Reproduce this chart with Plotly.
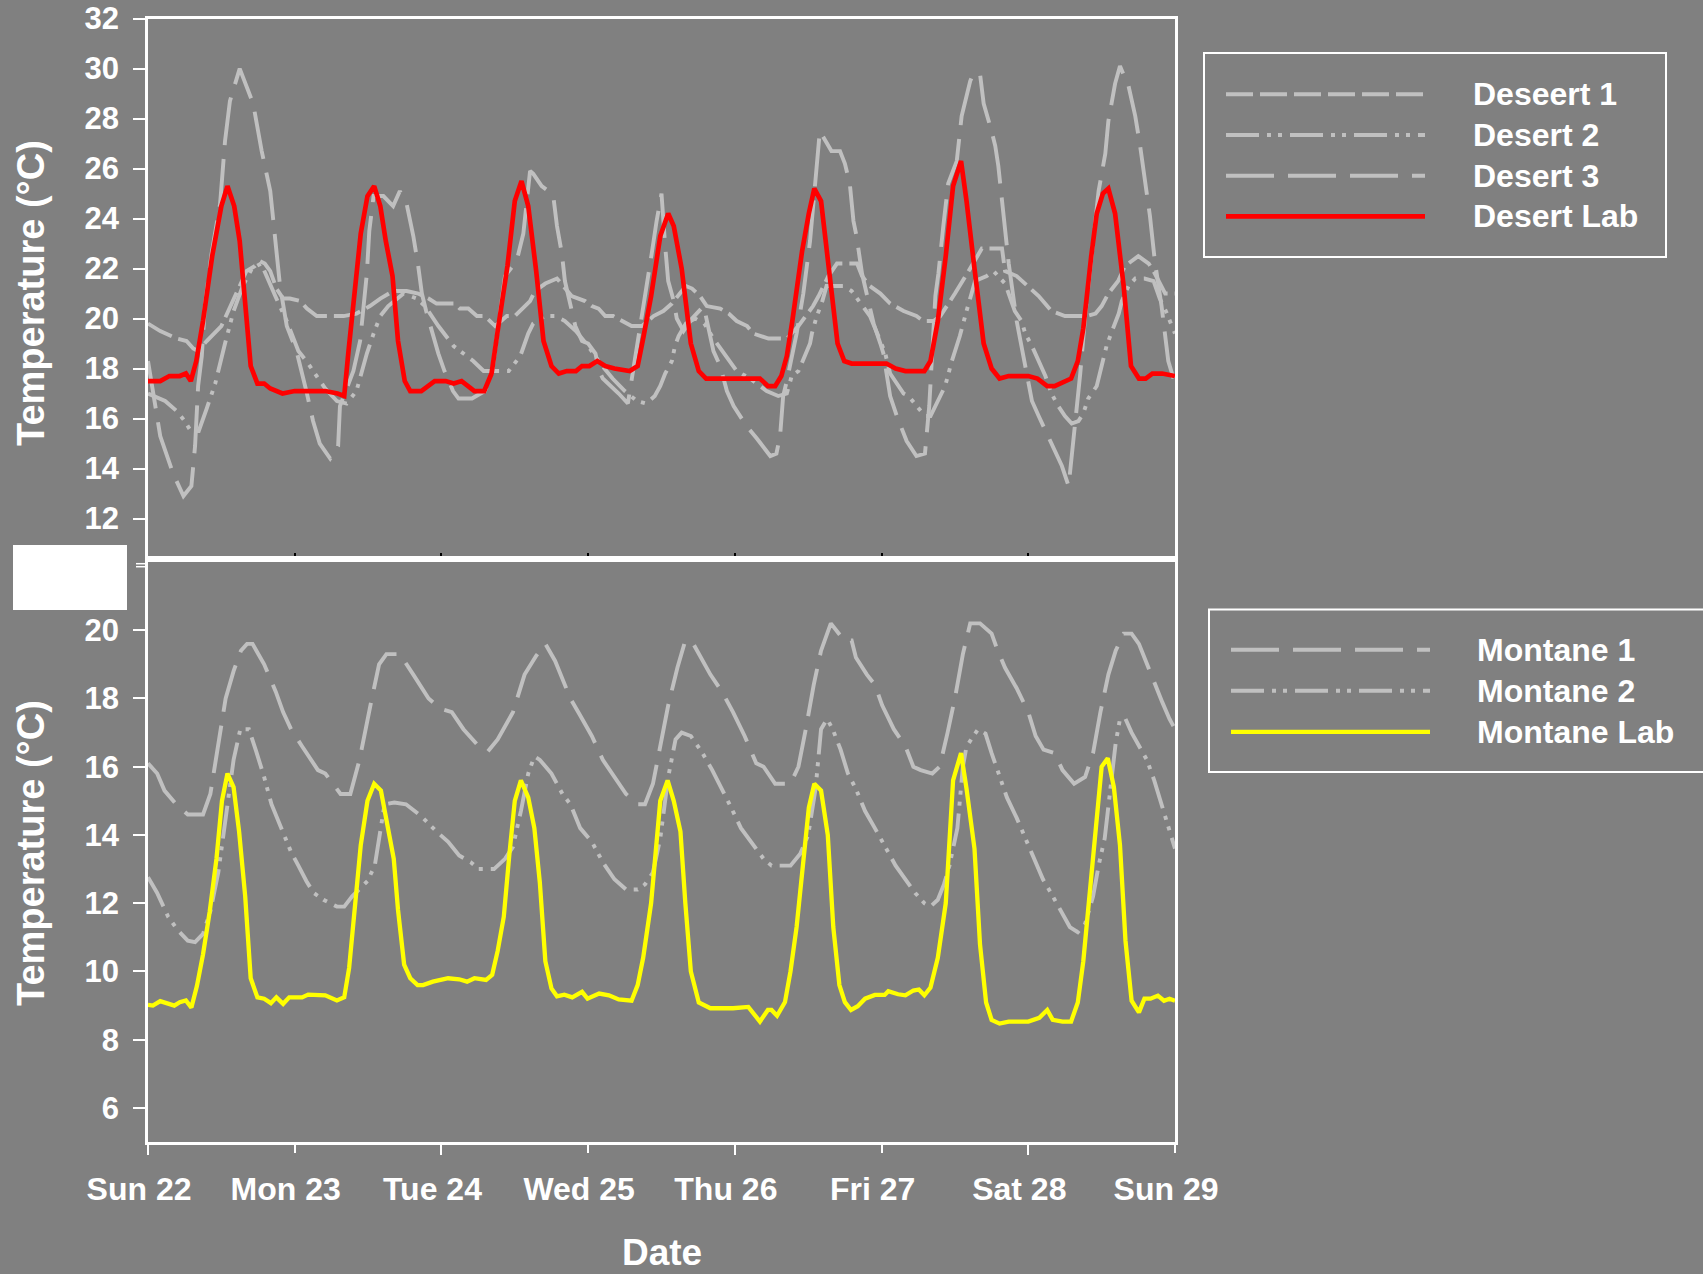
import plotly.graph_objects as go

# ---------------- data (hours since Sun 22 00:00, temperature in deg C) ----------------
DAY_LABELS = ["Sun 22", "Mon 23", "Tue 24", "Wed 25", "Thu 26", "Fri 27", "Sat 28", "Sun 29"]
DAY_HOURS = [0, 24, 48, 72, 96, 120, 144, 168]
LONG_TICK_HOURS = [0, 48, 96, 144]
TOP_YTICKS = [12, 14, 16, 18, 20, 22, 24, 26, 28, 30, 32]
BOT_YTICKS = [6, 8, 10, 12, 14, 16, 18, 20]

DESERT_NAMES = ["Deseert 1", "Desert 2", "Desert 3", "Desert Lab"]
MONTANE_NAMES = ["Montane 1", "Montane 2", "Montane Lab"]

DESERT_1 = [(0, 19.8), (2, 19.5), (4.7, 19.2), (6.3, 19.1), (7.4, 18.8), (8.2, 18.7), (9.6, 19.1), (12, 19.7),
            (15, 21.3), (16.1, 21.9), (17.5, 22.1), (18.3, 22.3), (19.1, 22.2), (20, 21.9), (21, 21.2), (22.1, 20.8),
            (23.2, 20.8), (24.9, 20.7), (26, 20.4), (27.6, 20.1), (32, 20.1), (34.1, 20.2), (36.3, 20.5), (38, 20.8),
            (40.1, 21.1), (42.3, 21.1), (44.2, 21.0), (45.9, 20.8), (47.2, 20.6), (48.6, 20.6), (50.2, 20.6),
            (51, 20.4), (52.4, 20.4), (53.8, 20.1), (55.1, 20.1), (56.8, 19.7), (58.7, 20.1), (60, 20.1),
            (62.5, 20.7), (63.3, 21.1), (65, 21.4), (66.9, 21.6), (68, 21.3), (69.3, 20.9), (71.5, 20.7),
            (72.6, 20.5), (73.7, 20.4), (74.8, 20.1), (76.1, 20.1), (77.5, 19.9), (79.1, 19.7), (80.8, 19.7),
            (82.7, 20.1), (84.3, 20.3), (85.7, 20.6), (87, 21.0), (88, 21.3), (89, 21.2), (90.3, 20.9),
            (91.4, 20.5), (93.6, 20.4), (95, 20.2), (96.3, 19.9), (98, 19.7), (99, 19.4), (101.5, 19.2),
            (104.5, 19.2), (106.4, 19.7), (108.8, 20.5), (109.7, 20.9), (111.3, 21.7), (112.7, 22.2), (116, 22.2),
            (116.8, 21.7), (118.1, 21.3), (119.8, 21.0), (121.4, 20.6), (123.6, 20.3), (125.7, 20.1), (126.8, 19.9),
            (128.5, 19.9), (129.6, 20.1), (131, 20.6), (132, 21.0), (134, 21.8), (135.8, 22.6), (136.4, 22.8),
            (139.7, 22.8), (140.2, 21.9), (142.1, 21.7), (144, 21.3), (145.7, 20.9), (147.8, 20.3), (150, 20.1),
            (152, 20.1), (153.6, 20.1), (155, 20.2), (156, 20.5), (157.1, 21.0), (158.7, 21.5), (159.8, 22.1),
            (161.5, 22.4), (162, 22.5), (163.7, 22.2), (164.7, 21.8), (166.4, 21.0), (168, 21.0)]

DESERT_2 = [(0, 17.0), (2.8, 16.7), (4.7, 16.3), (6, 15.9), (7, 15.5), (8.3, 15.5), (9.6, 16.4), (11, 17.4),
            (12.6, 19.0), (14, 20.3), (15.5, 21.3), (17, 22.0), (18.5, 22.2), (19.5, 21.6), (21, 20.8),
            (22.7, 19.9), (24.6, 18.7), (25.9, 18.3), (27.8, 17.6), (29, 17.2), (30.9, 16.7), (32.5, 16.6),
            (34.1, 17.1), (35.8, 18.6), (36.9, 19.4), (38, 20.1), (39.3, 20.5), (41.8, 21.0), (44, 20.8),
            (45.3, 20.5), (47.5, 19.7), (50, 18.9), (51.6, 18.6), (53.2, 18.3), (54.9, 17.9), (59, 17.9),
            (60.9, 18.5), (62.2, 19.4), (63, 19.8), (64.9, 20.1), (66.6, 20.1), (68.2, 19.9), (70, 19.5),
            (72, 18.9), (74, 18.2), (76, 17.6), (78, 17.1), (80, 16.7), (81.5, 16.6), (82.9, 16.9), (83.8, 17.3),
            (84.6, 17.8), (85.7, 18.3), (86.2, 18.9), (86.8, 19.3), (88, 19.8), (89.5, 20.0), (91, 19.8),
            (92.5, 19.2), (93.9, 18.7), (95.2, 18.3), (96.3, 17.9), (98.5, 17.6), (101.2, 17.1), (103.1, 16.9),
            (104.5, 17.0), (105.3, 17.7), (106.4, 17.9), (108.3, 19.0), (108.6, 19.4), (109.4, 20.1),
            (110.2, 20.6), (111, 21.3), (112.7, 21.3), (113.8, 21.3), (115.1, 21.1), (116.8, 20.5), (118.1, 20.1),
            (119.8, 19.1), (120.6, 18.6), (121.4, 17.8), (122.5, 17.4), (123.6, 17.0), (124.4, 16.9),
            (125.7, 16.5), (127.1, 16.1), (128, 16.1), (129, 16.6), (130.4, 17.3), (131.5, 18.3), (132.8, 19.3),
            (133.9, 20.3), (135.3, 21.5), (137.2, 21.7), (138.3, 21.9), (140.2, 21.4), (141.8, 20.3),
            (142.9, 19.9), (143.5, 19.4), (144.6, 18.9), (145.7, 18.3), (146.8, 17.7), (147.8, 17.0),
            (148.9, 16.5), (150, 16.1), (151.1, 15.8), (152.2, 15.9), (153, 16.2), (153.8, 16.8), (155.2, 17.3),
            (156, 18.1), (156.8, 18.9), (157.7, 19.5), (158.8, 20.2), (159.3, 20.7), (160.4, 21.3), (161.5, 21.6),
            (163, 21.6), (164.5, 21.5), (165.5, 20.8), (166.5, 20.3), (168, 19.4)]

DESERT_3 = [(0, 18.3), (2, 15.3), (4.1, 13.8), (5.8, 12.9), (7.1, 13.3), (7.7, 14.9), (8.2, 17.3), (8.8, 18.5),
            (9.3, 20.5), (10.4, 22.6), (11.8, 24.6), (12.6, 27.1), (13.4, 28.7), (15, 30.0), (17.2, 28.6),
            (18.6, 26.7), (20, 25.1), (20.8, 23.1), (21.6, 21.3), (22.7, 19.7), (24.3, 18.7), (26, 17.0),
            (27, 15.9), (28.1, 15.0), (29.8, 14.4), (31.1, 14.9), (31.4, 16.5), (33.6, 17.9), (34.7, 19.1),
            (35.8, 21.8), (36.2, 23.5), (36.9, 24.9), (38.5, 24.9), (40.1, 24.5), (41.2, 25.1), (42.3, 24.6),
            (43.4, 23.3), (44.2, 22.1), (44.8, 21.0), (45.5, 20.3), (46.4, 19.5), (47.5, 18.6), (48.5, 17.9),
            (49.9, 17.1), (50.8, 16.8), (53, 16.8), (55.1, 17.1), (56.2, 17.7), (58.4, 21.7), (60.3, 22.3),
            (61.4, 23.4), (61.8, 24.2), (62.5, 25.9), (63, 25.8), (64.4, 25.3), (65.5, 25.1), (66.3, 24.9),
            (66.9, 23.7), (67.7, 22.6), (68.2, 21.5), (69, 20.6), (69.9, 19.7), (71, 19.1), (72, 19.0),
            (73.2, 18.6), (73.8, 17.9), (74.4, 17.6), (75.7, 17.3), (77, 17.0), (78.5, 16.6), (79.1, 17.5),
            (80, 19.0), (81.3, 20.9), (82.4, 22.6), (83.2, 23.9), (84, 25.0), (84.6, 22.9), (85.1, 21.5),
            (86, 20.7), (86.5, 20.0), (87.6, 19.5), (89, 20.0), (90.9, 20.5), (92.5, 18.7), (93.6, 18.1),
            (94.7, 17.1), (95.8, 16.5), (97.9, 15.7), (99.6, 15.2), (101.8, 14.5), (102.8, 14.6), (103.4, 15.3),
            (103.9, 16.9), (104.5, 17.5), (106.1, 19.4), (107.2, 21.0), (108.3, 23.1), (109.4, 26.3),
            (109.9, 27.5), (111.8, 26.7), (113.2, 26.7), (114, 26.2), (114.8, 25.4), (115.4, 23.9), (115.9, 23.3),
            (116.8, 21.8), (117.6, 20.9), (118.7, 19.8), (119.8, 19.0), (120.3, 18.6), (121.4, 16.9),
            (122.5, 16.1), (124.1, 15.1), (125.7, 14.5), (127.1, 14.6), (127.8, 16.5), (128.8, 20.9),
            (129.3, 21.8), (130.1, 23.7), (130.9, 25.4), (132.3, 26.3), (133.1, 28.1), (134.5, 29.5), (135, 29.8),
            (136.1, 29.8), (136.7, 28.6), (138, 27.5), (138.6, 26.9), (139.1, 26.1), (139.7, 24.6), (140.8, 22.2),
            (142.1, 19.9), (143.5, 18.1), (144.6, 16.7), (145.7, 16.1), (146.8, 15.5), (148.7, 14.5),
            (149.5, 14.1), (150.6, 13.3), (151.1, 14.5), (151.9, 16.1), (152.5, 17.8), (153.3, 20.1),
            (154.4, 22.6), (155.5, 25.1), (156.6, 26.6), (157.1, 27.9), (158.2, 29.4), (159, 30.1), (160.4, 29.3),
            (161.5, 28.1), (162.3, 26.9), (163.1, 25.5), (163.9, 24.1), (164.7, 22.3), (165.8, 20.5),
            (166.9, 18.3), (168, 17.4)]

DESERT_LAB = [(0, 17.5), (2, 17.5), (3.5, 17.7), (5.2, 17.7), (6.2, 17.8), (7, 17.5), (7.9, 18.3), (9, 19.9),
              (10.5, 22.5), (12, 24.5), (13, 25.3), (14.1, 24.5), (15, 23.1), (16, 20.5), (16.8, 18.1),
              (17.9, 17.4), (19, 17.4), (20, 17.2), (22, 17.0), (24, 17.1), (26, 17.1), (29, 17.1), (31, 17.0),
              (32.1, 16.9), (32.8, 18.7), (33.7, 21.0), (34.8, 23.4), (35.9, 24.9), (37, 25.3), (38, 24.5),
              (38.9, 23.1), (40, 21.7), (40.9, 19.1), (42, 17.5), (42.9, 17.1), (44.7, 17.1), (46.9, 17.5),
              (48.7, 17.5), (50, 17.4), (51.3, 17.5), (53.4, 17.1), (55, 17.1), (56.2, 17.8), (57.2, 19.5),
              (58.8, 22.1), (60, 24.7), (61.1, 25.5), (62.2, 24.5), (63.5, 21.9), (64.7, 19.1), (66, 18.1),
              (67.2, 17.8), (68.5, 17.9), (70, 17.9), (71, 18.1), (72.2, 18.1), (73.5, 18.3), (74.8, 18.1),
              (76.3, 18.0), (78.8, 17.9), (80.1, 18.1), (81, 19.2), (82.3, 20.9), (83.8, 23.3), (85.1, 24.2),
              (86, 23.7), (87.3, 22.0), (88.8, 19.0), (90.1, 17.9), (91.3, 17.6), (95.7, 17.6), (97.3, 17.6),
              (100.1, 17.6), (101.4, 17.3), (102.6, 17.3), (103.6, 17.7), (104.5, 18.5), (105.4, 19.9),
              (107, 22.7), (108.1, 24.2), (109, 25.2), (110.1, 24.7), (111.4, 22.0), (112.8, 19.0), (113.9, 18.3),
              (115.1, 18.2), (120.8, 18.2), (122.3, 18.0), (123.9, 17.9), (127, 17.9), (128, 18.3), (129.2, 19.9),
              (130.5, 22.5), (131.7, 25.3), (133, 26.3), (133.9, 24.7), (135.2, 22.0), (136.7, 19.0), (138, 18.0),
              (139.3, 17.6), (140.8, 17.7), (144, 17.7), (145.5, 17.6), (147.1, 17.3), (148.3, 17.3),
              (149.9, 17.5), (151, 17.6), (152.1, 18.3), (153, 19.6), (154.3, 22.5), (155.2, 24.2), (156.2, 25.0),
              (157.1, 25.2), (158.2, 24.2), (159.6, 21.3), (160.8, 18.1), (162.1, 17.6), (163.2, 17.6),
              (164.3, 17.8), (165.9, 17.8), (168, 17.7)]

MONTANE_1 = [(0, 16.1), (1.5, 15.8), (2.7, 15.3), (4.6, 14.9), (6.5, 14.6), (9, 14.6), (10.2, 15.2), (11.5, 16.7),
             (12.7, 18.0), (14, 18.8), (15.2, 19.4), (16.2, 19.6), (17.1, 19.6), (19, 19.0), (20.9, 18.2),
             (22.1, 17.6), (23.4, 17.1), (25.2, 16.6), (27.8, 15.9), (29, 15.8), (30.3, 15.5), (31.5, 15.2),
             (33.1, 15.2), (34.6, 16.2), (36.5, 17.9), (37.8, 19.0), (39, 19.3), (41.2, 19.3), (43.4, 18.7),
             (45.9, 18.0), (47.8, 17.7), (49.7, 17.6), (51.6, 17.1), (54.1, 16.6), (55.6, 16.45), (57.2, 16.8),
             (59.7, 17.6), (61.6, 18.7), (63.5, 19.25), (65, 19.6), (66.6, 19.1), (67.9, 18.5), (69.1, 18.0),
             (70.7, 17.5), (72.6, 16.9), (74.4, 16.2), (76.3, 15.7), (78.2, 15.2), (80.1, 14.9), (81.3, 14.9),
             (82.6, 15.5), (84.1, 16.8), (85.1, 17.8), (86.6, 18.9), (87.9, 19.7), (89.2, 19.6), (90.1, 19.3),
             (92, 18.7), (93.9, 18.2), (95.7, 17.6), (97.6, 16.9), (99.5, 16.1), (100.7, 16.0), (102.6, 15.5),
             (105.1, 15.5), (106.4, 16.0), (107.6, 17.1), (108.9, 18.4), (110.1, 19.4), (111.7, 20.2),
             (113.9, 19.7), (115.1, 19.7), (115.8, 19.2), (117.6, 18.7), (118.9, 18.4), (120.1, 17.8),
             (122, 17.1), (123.9, 16.6), (125.2, 16.0), (126.4, 15.9), (128.3, 15.8), (129.5, 16.0), (130.8, 17.0),
             (132.1, 18.1), (133.3, 19.3), (134.5, 20.2), (136.1, 20.2), (138, 19.9), (139, 19.4), (140.2, 18.9),
             (142.1, 18.3), (144, 17.6), (145.2, 16.9), (146.5, 16.5), (148.3, 16.4), (149.6, 15.9), (151.5, 15.5),
             (153.3, 15.7), (154.6, 16.4), (155.8, 17.6), (157.1, 18.7), (158.3, 19.4), (159.6, 19.9),
             (160.9, 19.9), (162.1, 19.6), (163.4, 19.0), (164.6, 18.5), (165.9, 17.9), (167.1, 17.4), (168, 17.1)]

MONTANE_2 = [(0, 12.76), (1.5, 12.3), (3.3, 11.6), (4.9, 11.2), (6.5, 10.9), (7.7, 10.86), (9, 11.1),
             (10.2, 11.76), (11.5, 12.9), (12.7, 14.4), (14, 16.2), (15.1, 17.1), (16.5, 17.1), (17.7, 16.45),
             (19, 15.7), (20.2, 14.9), (21.8, 14.2), (23.4, 13.5), (24.6, 13.1), (25.9, 12.65), (27.1, 12.3),
             (28.7, 12.1), (30.9, 11.9), (32.1, 11.9), (33.4, 12.2), (34.6, 12.4), (35.9, 12.65), (37.1, 13.1),
             (38.1, 14.2), (38.7, 14.9), (40.3, 14.95), (42.2, 14.9), (44.7, 14.55), (47.2, 14.1), (49.1, 13.8),
             (50.9, 13.4), (52.8, 13.2), (54.1, 13.0), (56.6, 13.0), (58.4, 13.3), (59.7, 13.65), (61, 14.7),
             (62.2, 15.8), (63.2, 16.3), (64.1, 16.2), (66, 15.8), (67.8, 15.2), (69.1, 14.9), (70.7, 14.2),
             (72.6, 13.8), (74.4, 13.2), (76.3, 12.7), (78.2, 12.4), (80.1, 12.4), (81.3, 12.55), (82.6, 12.9),
             (83.8, 13.9), (85.1, 15.7), (86.3, 16.8), (87.3, 17.0), (88.8, 16.9), (90.7, 16.4), (92.3, 15.9),
             (93.9, 15.35), (95.4, 14.8), (97, 14.2), (98.2, 13.9), (100.7, 13.3), (102, 13.1), (105.1, 13.1),
             (106.7, 13.45), (108, 14.0), (109.2, 15.35), (110.1, 17.1), (111.1, 17.4), (112, 17.1), (113.3, 16.5),
             (114.5, 15.8), (115.8, 15.35), (117.3, 14.7), (118.9, 14.2), (120.8, 13.6), (122.3, 13.1),
             (123.9, 12.7), (125.5, 12.3), (127, 12.0), (128, 11.9), (129.2, 12.1), (130.2, 12.55), (131.1, 13.1),
             (132.4, 14.2), (133.3, 16.0), (133.9, 16.6), (135.8, 17.1), (137, 16.97), (138, 16.4), (139.3, 15.7),
             (140.5, 15.1), (142.1, 14.5), (143.3, 14.0), (144.9, 13.3), (146.4, 12.7), (147.7, 12.3),
             (149.3, 11.8), (150.8, 11.3), (152.1, 11.15), (153.3, 11.4), (154.6, 12.2), (155.5, 13.1),
             (156.5, 13.9), (157.4, 15.35), (158.3, 16.7), (159, 17.4), (159.9, 17.4), (160.9, 17.0), (162.4, 16.5),
             (163.4, 16.2), (164.6, 15.6), (165.9, 14.8), (167.1, 14.1), (168, 13.6)]

MONTANE_LAB = [(0, 9.02), (0.8, 9.0), (2, 9.13), (3.3, 9.05), (4.3, 9.0), (5.2, 9.1), (6.2, 9.15), (7.1, 8.94),
               (8, 9.57), (9, 10.5), (10.1, 11.76), (11.2, 13.3), (12.1, 15.0), (13, 15.8), (14, 15.4), (14.9, 14.1),
               (15.9, 12.2), (16.8, 9.8), (17.9, 9.24), (19, 9.2), (20.1, 9.07), (21, 9.24), (22.1, 9.05),
               (23.1, 9.24), (25.2, 9.24), (26.2, 9.32), (29, 9.3), (30.9, 9.15), (32.1, 9.24), (32.9, 10.1),
               (33.7, 11.5), (34.8, 13.7), (35.9, 15.0), (37, 15.5), (38.1, 15.3), (39, 14.4), (40.2, 13.3),
               (40.9, 11.8), (41.9, 10.2), (42.9, 9.8), (44.1, 9.6), (45, 9.6), (46.6, 9.7), (49.1, 9.8),
               (50.9, 9.77), (52.2, 9.7), (53.4, 9.8), (55.3, 9.75), (56.3, 9.9), (57.2, 10.6), (58.2, 11.6),
               (59.1, 13.4), (60, 15.0), (61, 15.6), (62.2, 15.1), (63.2, 14.2), (64.1, 12.6), (65, 10.3), (66, 9.5),
               (66.9, 9.27), (68.1, 9.32), (69.4, 9.24), (71, 9.4), (71.9, 9.2), (73.8, 9.35), (75.4, 9.3),
               (77, 9.18), (79.1, 9.14), (80.1, 9.6), (81, 10.4), (82.3, 12.0), (83.8, 15.0), (85, 15.6), (86, 15.0),
               (87.1, 14.1), (87.9, 12.0), (88.8, 10.0), (90.1, 9.09), (92, 8.92), (95.7, 8.92), (98.2, 8.96),
               (100.1, 8.53), (101.4, 8.87), (102, 8.87), (102.9, 8.7), (104.2, 9.1), (105.1, 10.0), (106.1, 11.3),
               (107, 12.9), (108.1, 14.8), (109, 15.5), (110.1, 15.3), (111.2, 14.0), (112.1, 11.3), (113.1, 9.6),
               (114, 9.1), (115, 8.87), (116.1, 8.98), (117.3, 9.2), (118.9, 9.31), (120.5, 9.31), (121.1, 9.42),
               (122.7, 9.33), (123.9, 9.3), (125.2, 9.44), (126.1, 9.47), (127, 9.3), (128, 9.53), (129.2, 10.4),
               (130.5, 12.0), (131.7, 15.6), (133, 16.4), (133.9, 15.35), (135.2, 13.6), (136.1, 10.8), (137.1, 9.09),
               (138, 8.58), (139.3, 8.47), (140.8, 8.53), (144, 8.53), (145.8, 8.64), (147.1, 8.87), (148, 8.58),
               (149.6, 8.53), (151, 8.53), (152.1, 9.09), (153, 10.3), (154, 12.2), (154.9, 14.2), (156, 16.0),
               (157, 16.25), (158, 15.4), (159, 13.7), (159.9, 10.9), (160.9, 9.14), (162.1, 8.8), (163, 9.2),
               (164, 9.2), (165.2, 9.29), (166.2, 9.14), (167.1, 9.2), (168, 9.14)]

# ---------------- styling / layout constants ----------------
W, H = 1703, 1274
BG = "#808080"
GREY = "#C0C0C0"
WHITE = "#FFFFFF"
FONT = "Liberation Sans, Arial, sans-serif"
DASH_SHORT = "27px,7px"
DASH_DDOT = "33px,8px,4px,7px,4px,8px"
DASH_LONG = "48px,14px"

PLOT_X0, PLOT_X1 = 148, 1175
TOP_Y0, TOP_Y1 = 18.6, 556
BOT_Y0, BOT_Y1 = 562, 1142


def fx(p):
    return p / W


def fy(p):
    return 1 - p / H


def split(series):
    return [p[0] for p in series], [p[1] for p in series]


desert_series = [
    (DESERT_1, GREY, DASH_SHORT, 3.9),
    (DESERT_2, GREY, DASH_DDOT, 3.9),
    (DESERT_3, GREY, DASH_LONG, 3.9),
    (DESERT_LAB, "#FF0000", "solid", 4.7),
]
montane_series = [
    (MONTANE_1, GREY, DASH_LONG, 3.9),
    (MONTANE_2, GREY, DASH_DDOT, 3.9),
    (MONTANE_LAB, "#FFFF00", "solid", 4.3),
]

fig = go.Figure()
for name, (data, color, dash, width) in zip(DESERT_NAMES, desert_series):
    xs, ys = split(data)
    fig.add_trace(go.Scatter(x=xs, y=ys, name=name, mode="lines", xaxis="x", yaxis="y",
                             line=dict(color=color, dash=dash, width=width), showlegend=False))
for name, (data, color, dash, width) in zip(MONTANE_NAMES, montane_series):
    xs, ys = split(data)
    fig.add_trace(go.Scatter(x=xs, y=ys, name=name, mode="lines", xaxis="x2", yaxis="y2",
                             line=dict(color=color, dash=dash, width=width), showlegend=False))
# empty trace so the overlay axis (long ticks) is drawn
fig.add_trace(go.Scatter(x=[], y=[], xaxis="x3", yaxis="y2", showlegend=False, hoverinfo="skip"))

ytickfont = dict(family=FONT, size=31, color=WHITE, weight="bold")
xtickfont = dict(family=FONT, size=32, color=WHITE, weight="bold")
axis_common = dict(showline=True, linecolor=WHITE, linewidth=2.5, mirror=True,
                   showgrid=False, zeroline=False, automargin=False)

fig.update_layout(
    width=W, height=H,
    margin=dict(l=0, r=0, t=0, b=0, autoexpand=False),
    paper_bgcolor=BG, plot_bgcolor=BG,
    font=dict(family=FONT, color=WHITE),
    showlegend=False,
    xaxis=dict(domain=[fx(PLOT_X0), fx(PLOT_X1)], range=[0, 168], anchor="y",
               tickmode="array", tickvals=DAY_HOURS, ticks="inside", ticklen=3, tickwidth=2,
               tickcolor="#000000", showticklabels=False, **axis_common),
    yaxis=dict(domain=[fy(TOP_Y1), fy(TOP_Y0)], range=[10.5, 32], anchor="x",
               tickmode="array", tickvals=TOP_YTICKS, ticks="outside", ticklen=12, tickwidth=2,
               tickcolor=WHITE, tickfont=ytickfont, ticklabelstandoff=8, **axis_common),
    xaxis2=dict(domain=[fx(PLOT_X0), fx(PLOT_X1)], range=[0, 168], anchor="y2",
                tickmode="array", tickvals=DAY_HOURS, ticktext=DAY_LABELS, ticks="outside",
                ticklen=8, tickwidth=2, tickcolor=WHITE, tickfont=xtickfont, ticklabelstandoff=9,
                ticklabelshift=-9, **axis_common),
    xaxis3=dict(domain=[fx(PLOT_X0), fx(PLOT_X1)], range=[0, 168], anchor="y2", overlaying="x2",
                tickmode="array", tickvals=LONG_TICK_HOURS, ticks="outside", ticklen=12, tickwidth=2,
                tickcolor=WHITE, showticklabels=False, showline=False, showgrid=False, zeroline=False,
                automargin=False),
    yaxis2=dict(domain=[fy(BOT_Y1), fy(BOT_Y0)], range=[5, 22], anchor="x2",
                tickmode="array", tickvals=BOT_YTICKS, ticks="outside", ticklen=12, tickwidth=2,
                tickcolor=WHITE, tickfont=ytickfont, ticklabelstandoff=8, **axis_common),
)

title_font = dict(family=FONT, size=38, color=WHITE, weight="bold")
annotations = [
    dict(text="Temperature (°C)", textangle=-90, x=fx(31), y=fy(293), xref="paper", yref="paper",
         xanchor="center", yanchor="middle", showarrow=False, font=title_font),
    dict(text="Temperature (°C)", textangle=-90, x=fx(31), y=fy(853), xref="paper", yref="paper",
         xanchor="center", yanchor="middle", showarrow=False, font=title_font),
    dict(text="Date", x=fx(662), y=fy(1252), xref="paper", yref="paper", xanchor="center",
         yanchor="middle", showarrow=False, font=dict(family=FONT, size=37, color=WHITE, weight="bold")),
]

shapes = [
    # white box covering the axis break label
    dict(type="rect", xref="paper", yref="paper", x0=fx(13), x1=fx(127), y0=fy(610), y1=fy(545),
         fillcolor=WHITE, line=dict(width=0)),
    # axis break marks
    dict(type="line", xref="paper", yref="paper", x0=fx(136), x1=fx(147), y0=fy(563.7), y1=fy(563.7),
         line=dict(color=WHITE, width=1.5)),
    dict(type="line", xref="paper", yref="paper", x0=fx(136), x1=fx(147), y0=fy(566.7), y1=fy(566.7),
         line=dict(color=WHITE, width=1.5)),
]

# manual legends (box, line samples, labels)
legend_font = dict(family=FONT, size=32, color=WHITE, weight="bold")
LEGENDS = [
    dict(names=DESERT_NAMES, styles=desert_series, box=(1204, 1666, 53, 257), row0=94.3, step=40.7,
         line_x=(1226, 1425), text_x=1471),
    dict(names=MONTANE_NAMES, styles=montane_series, box=(1209, 1715, 609.6, 772), row0=649.7, step=41.05,
         line_x=(1231, 1430), text_x=1475),
]
for leg in LEGENDS:
    bx0, bx1, by0, by1 = leg["box"]
    shapes.append(dict(type="rect", xref="paper", yref="paper", x0=fx(bx0), x1=fx(bx1), y0=fy(by1),
                       y1=fy(by0), line=dict(color=WHITE, width=2), fillcolor="rgba(0,0,0,0)"))
    for i, (name, (data, color, dash, width)) in enumerate(zip(leg["names"], leg["styles"])):
        ry = leg["row0"] + i * leg["step"]
        shapes.append(dict(type="line", xref="paper", yref="paper", x0=fx(leg["line_x"][0]),
                           x1=fx(leg["line_x"][1]), y0=fy(ry), y1=fy(ry),
                           line=dict(color=color, dash=dash, width=width)))
        annotations.append(dict(text=name, x=fx(leg["text_x"]), y=fy(ry), xref="paper", yref="paper",
                                xanchor="left", yanchor="middle", showarrow=False, font=legend_font))

fig.update_layout(annotations=annotations, shapes=shapes)

fig.write_html("out.html")
